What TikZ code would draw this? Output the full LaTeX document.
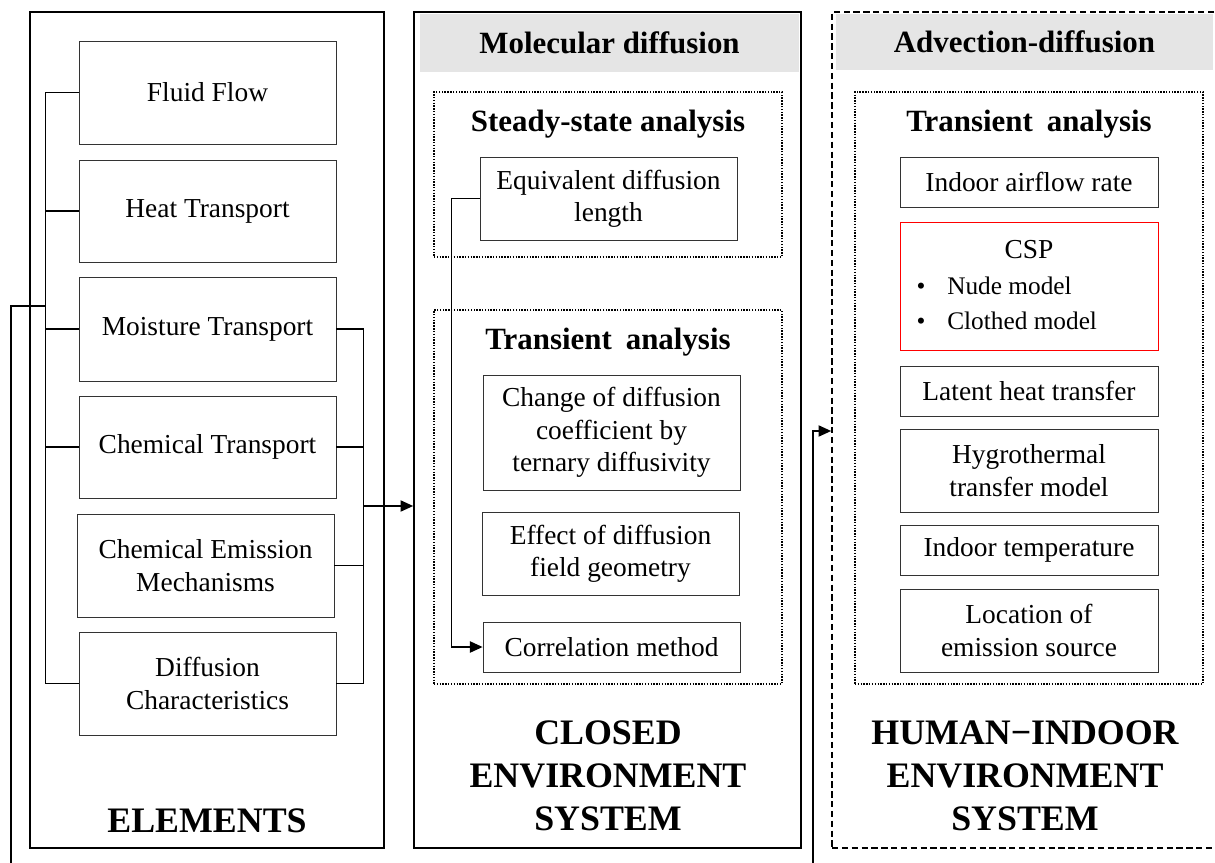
\documentclass[tikz,border=0pt]{standalone}
\usepackage{fontspec}
\setmainfont{Liberation Serif}
\usetikzlibrary{arrows.meta,positioning}

\newcommand{\itemfont}{\fontsize{19.5}{23}\selectfont}
\newcommand{\hdfont}{\fontsize{22}{26}\selectfont\bfseries}
\newcommand{\sysfont}{\fontsize{25.5}{30.5}\selectfont\bfseries}
\newcommand{\cspfont}{\fontsize{18}{21}\selectfont}

\begin{document}
\begin{tikzpicture}[
  panel/.style={draw, line width=1.2pt, minimum height=20.9cm, inner sep=0pt},
  header/.style={fill=gray!20, font=\hdfont, inner sep=0pt},
  group/.style={draw, line width=1pt, dash pattern=on 1pt off 1pt, inner sep=0pt},
  item/.style={draw=black!80, line width=0.6pt, minimum width=6.425cm, align=center, font=\itemfont, inner sep=0pt},
  title/.style={font=\hdfont},
  system/.style={font=\sysfont, align=center},
  wire/.style={line width=1pt},
  arrow/.style={wire, -{Triangle[length=9pt,width=8pt]}}
]
\useasboundingbox (0,0) rectangle (30.375,-21.575);
\clip (0,0) rectangle (30.375,-21.575);

% elements
\node[panel, minimum width=8.85cm] (elem) at (5.175,-10.75) {};
\node[item, minimum height=2.575cm] (fluid) at (5.1875,-2.3125) {Fluid Flow};
\node[item, minimum height=2.55cm] (heat) at (5.1875,-5.275) {Heat Transport};
\node[item, minimum height=2.6cm] (moist) at (5.1875,-8.225) {Moisture Transport};
\node[item, minimum height=2.55cm] (chemt) at (5.1875,-11.175) {Chemical Transport};
\node[item, minimum height=2.575cm] (cheme) at (5.1375,-14.1375) {Chemical Emission\\Mechanisms};
\node[item, minimum height=2.575cm] (diffc) at (5.1875,-17.0875) {Diffusion\\Characteristics};
\node[system, anchor=base] (elemlbl) at (5.175,-20.8) {ELEMENTS};

% closed environment
\node[panel, minimum width=9.675cm] (closed) at (15.1875,-10.75) {};
\node[header, minimum width=9.475cm, minimum height=1.45cm] (molec) at (15.2375,-1.075) {Molecular diffusion};
\node[group, minimum width=8.7cm, minimum height=4.125cm] (steady) at (15.2,-4.3625) {};
\node[title] (steadylbl) at (15.2,-3.11) {Steady-state analysis};
\node[item, minimum height=2.075cm] (equiv) at (15.2125,-4.9625) {Equivalent diffusion\\length};
\node[group, minimum width=8.7cm, minimum height=9.35cm] (transc) at (15.2,-12.425) {};
\node[title] (transclbl) at (15.2,-8.56) {Transient\hspace{0.45em}analysis};
\node[item, minimum height=2.875cm] (change) at (15.2875,-10.8125) {Change of diffusion\\coefficient by\\ternary diffusivity};
\node[item, minimum height=2.075cm] (effect) at (15.2625,-13.8375) {Effect of diffusion\\field geometry};
\node[item, minimum height=1.25cm] (corr) at (15.2875,-16.175) {Correlation method};
\node[system] (closedlbl) at (15.2,-19.4) {CLOSED\\ENVIRONMENT\\SYSTEM};

% human-indoor environment
\node[panel, dashed, dash pattern=on 4.5pt off 2.5pt, minimum width=9.825cm] (human) at (25.7125,-10.75) {};
\node[header, minimum width=9.425cm, minimum height=1.4cm] (advec) at (25.6125,-1.05) {Advection-diffusion};
\node[group, minimum width=8.7cm, minimum height=14.8cm] (transh) at (25.725,-9.7) {};
\node[title] (transhlbl) at (25.725,-3.11) {Transient\hspace{0.45em}analysis};
\node[item, minimum width=6.45cm, minimum height=1.25cm] (airflow) at (25.725,-4.55) {Indoor airflow rate};
\node[item, draw=red, minimum width=6.45cm, minimum height=3.2cm] (csp) at (25.725,-7.15) {};
\node[font=\itemfont] (csplbl) at (25.725,-6.23) {CSP};
\node[font=\cspfont, anchor=base] (bul1) at (23.025,-7.375) {•};
\node[font=\cspfont, anchor=base west, inner sep=0pt] (nude) at (23.675,-7.375) {Nude model};
\node[font=\cspfont, anchor=base] (bul2) at (23.025,-8.25) {•};
\node[font=\cspfont, anchor=base west, inner sep=0pt] (clothed) at (23.675,-8.25) {Clothed model};
\node[item, minimum width=6.45cm, minimum height=1.25cm] (latent) at (25.725,-9.775) {Latent heat transfer};
\node[item, minimum width=6.45cm, minimum height=2.075cm] (hygro) at (25.725,-11.7625) {Hygrothermal\\transfer model};
\node[item, minimum width=6.45cm, minimum height=1.25cm] (temp) at (25.725,-13.75) {Indoor temperature};
\node[item, minimum width=6.45cm, minimum height=2.075cm] (source) at (25.725,-15.7625) {Location of\\emission source};
\node[system] (humanlbl) at (25.625,-19.4) {HUMAN−INDOOR\\ENVIRONMENT\\SYSTEM};

% left bus
\draw[wire] (fluid.west) -- ++(-0.825,0) coordinate (lbus) |- (diffc.west);
\foreach \n in {heat,moist,chemt}
  \draw[wire] (\n.west) -- (\n.west -| lbus);
\coordinate (ljoin) at (lbus |- 0,-7.65);
\coordinate (fback) at (20.325,-10.775);
\draw[arrow] (ljoin) -| (0.275,-22.5) -| (fback) -- (human.west |- fback);

% right bus
\draw[wire] (moist.east) -- ++(0.675,0) coordinate (rbus) |- (diffc.east);
\foreach \n in {chemt,cheme}
  \draw[wire] (\n.east) -- (\n.east -| rbus);
\draw[arrow] (rbus |- 0,-12.65) -- (closed.west |- 0,-12.65);

% steady to correlation
\draw[arrow] (equiv.west) -- ++(-0.7,0) |- (corr.west);
\end{tikzpicture}
\end{document}
